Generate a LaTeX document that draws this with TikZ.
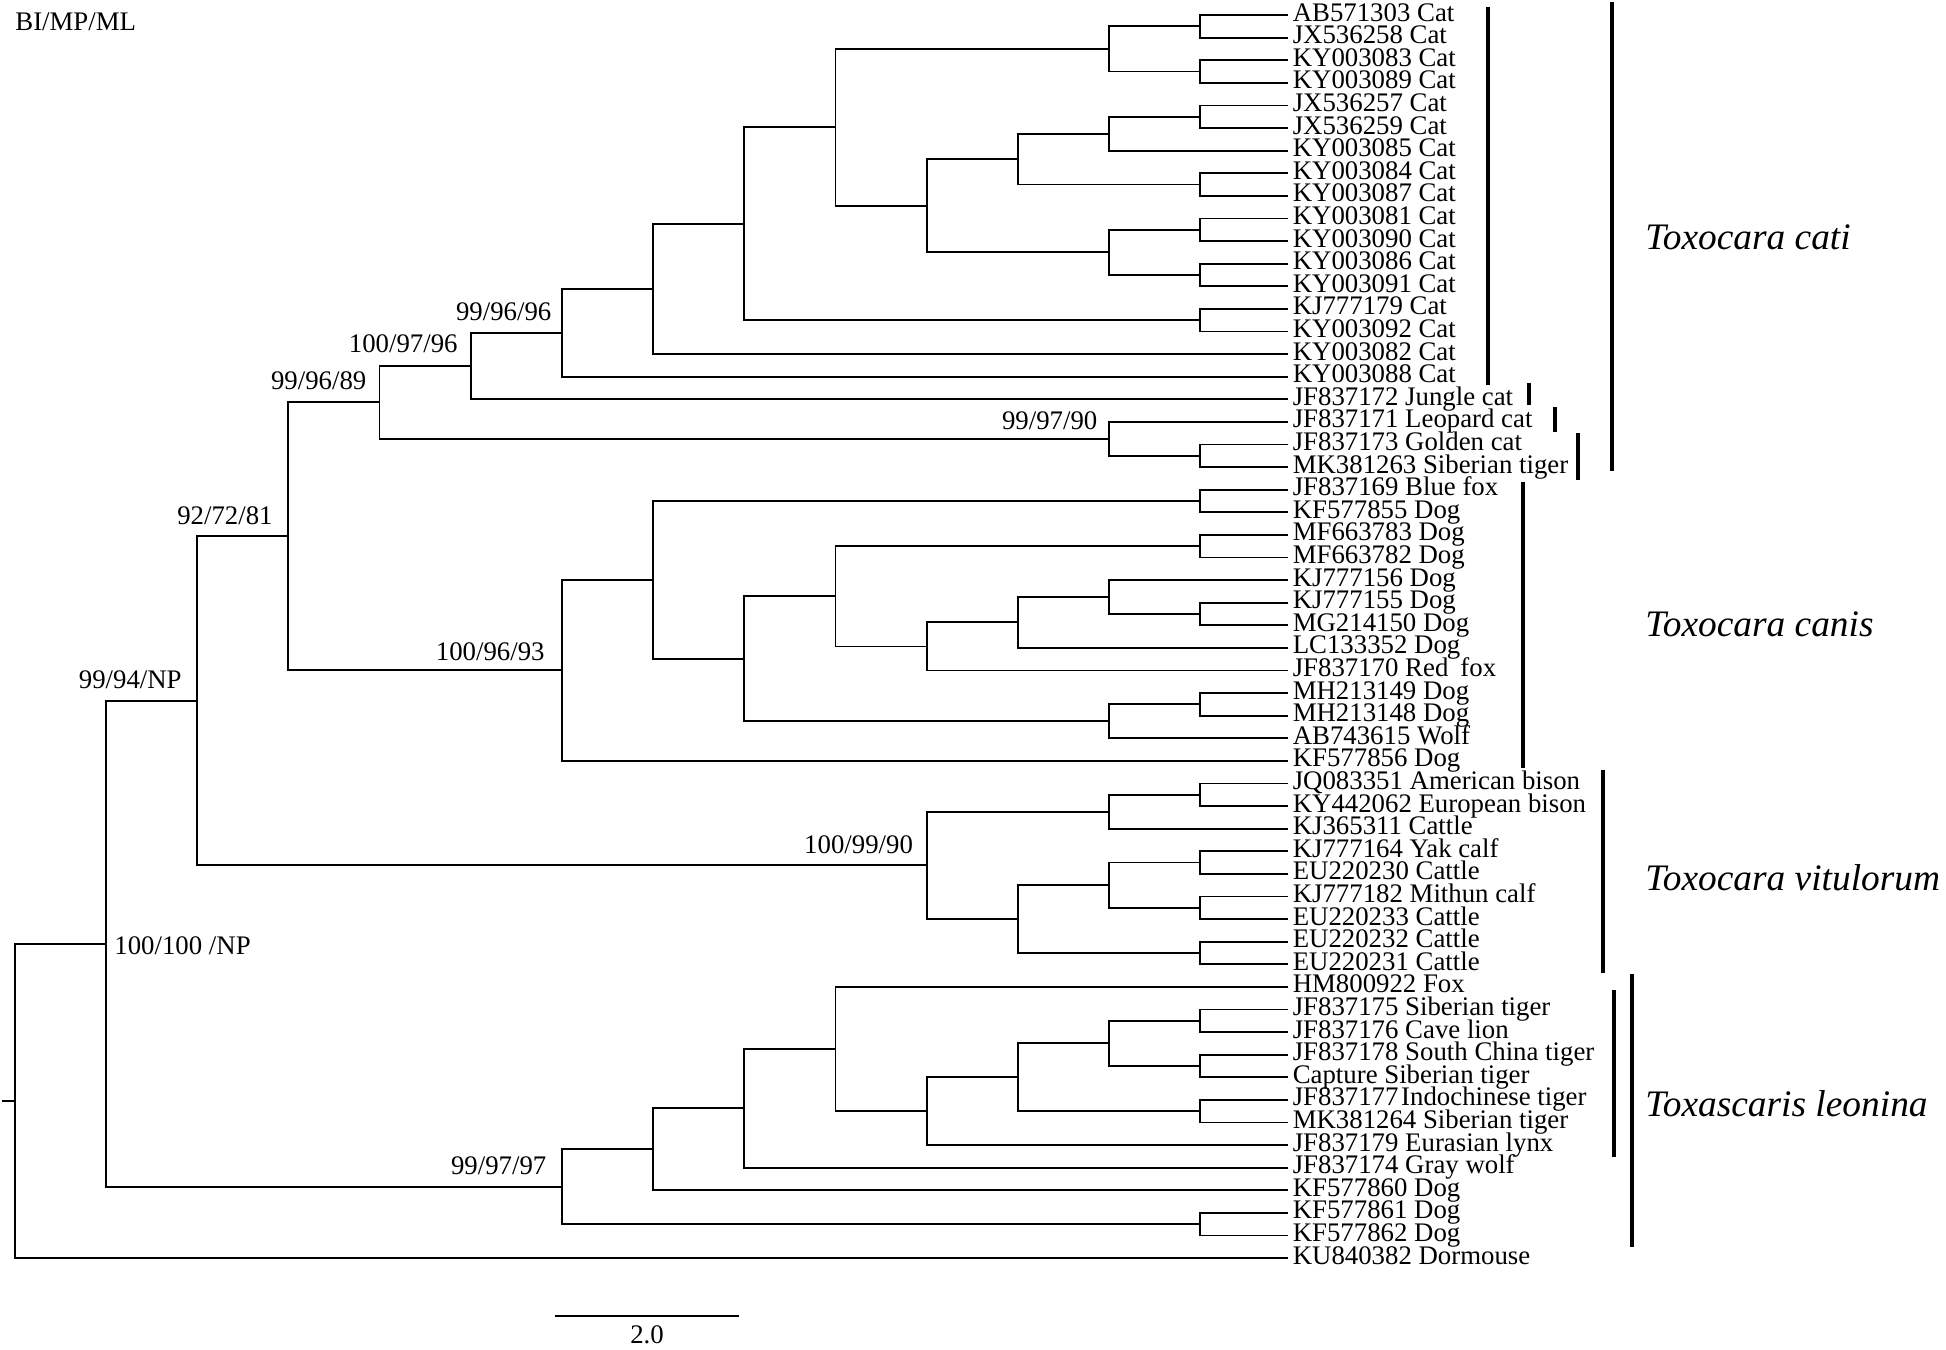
\documentclass[tikz,border=0pt]{standalone}
\usepackage{fontspec}
\setmainfont{Liberation Serif}
\begin{document}
\begin{tikzpicture}[x=0.5pt,y=-0.5pt,
 tree/.style={line width=0.9pt, line join=miter},
 bar/.style={line width=2pt},
 leaf/.style={anchor=west, inner xsep=2.2pt, inner ysep=0pt, text height=0.6em, text depth=0pt, font=\fontsize{13.4}{14}\selectfont},
 sup/.style={anchor=base east, inner sep=0pt, font=\fontsize{13.4}{14}\selectfont},
 species/.style={anchor=base west, inner sep=0pt, font=\fontsize{18.7}{20}\selectfont\itshape}]
\useasboundingbox (0,0) rectangle (1946,1349);

% leaves
\foreach \i/\t in {1/AB571303 Cat, 2/JX536258 Cat, 3/KY003083 Cat, 4/KY003089 Cat,
 5/JX536257 Cat, 6/JX536259 Cat, 7/KY003085 Cat, 8/KY003084 Cat, 9/KY003087 Cat,
 10/KY003081 Cat, 11/KY003090 Cat, 12/KY003086 Cat, 13/KY003091 Cat, 14/KJ777179 Cat,
 15/KY003092 Cat, 16/KY003082 Cat, 17/KY003088 Cat, 18/JF837172 Jungle cat,
 19/JF837171 Leopard cat, 20/JF837173 Golden cat, 21/MK381263 Siberian tiger,
 22/JF837169 Blue fox, 23/KF577855 Dog, 24/MF663783 Dog, 25/MF663782 Dog,
 26/KJ777156 Dog, 27/KJ777155 Dog, 28/MG214150 Dog, 29/LC133352 Dog,
 30/JF837170 Red\hspace{0.45em}fox, 31/MH213149 Dog, 32/MH213148 Dog, 33/AB743615 Wolf,
 34/KF577856 Dog, 35/JQ083351 American bison, 36/KY442062 European bison,
 37/KJ365311 Cattle, 38/KJ777164 Yak calf, 39/EU220230 Cattle, 40/KJ777182 Mithun calf,
 41/EU220233 Cattle, 42/EU220232 Cattle, 43/EU220231 Cattle, 44/HM800922 Fox,
 45/JF837175 Siberian tiger, 46/JF837176 Cave lion, 47/JF837178 South China tiger,
 48/Capture Siberian tiger, 49/JF837177\hspace{0.1em}Indochinese tiger, 50/MK381264 Siberian tiger,
 51/JF837179 Eurasian lynx, 52/JF837174 Gray wolf, 53/KF577860 Dog, 54/KF577861 Dog,
 55/KF577862 Dog, 56/KU840382 Dormouse}
 { \node[leaf] (L\i) at (1288,{15+(\i-1)*22.6}) {\t}; }

% Toxocara cati clade
\coordinate (A1) at (1200.3,26.3);
\coordinate (A2) at (1200.3,71.5);
\coordinate (A3) at (1109.1,48.9);
\coordinate (A4) at (1200.3,116.7);
\coordinate (A5) at (1109.1,133.65);
\coordinate (A6) at (1200.3,184.5);
\coordinate (A7) at (1017.9,159.08);
\coordinate (A8) at (1200.3,229.7);
\coordinate (A9) at (1200.3,274.9);
\coordinate (A10) at (1109.1,252.3);
\coordinate (A11) at (926.7,205.69);
\coordinate (A12) at (835.5,127.29);
\coordinate (A13) at (1200.3,320.1);
\coordinate (A14) at (744.3,223.70);
\coordinate (A15) at (653.1,288.85);
\coordinate (A16) at (561.9,332.72);
\coordinate (A17) at (470.7,365.96);
\coordinate (A18) at (1200.3,455.7);
\coordinate (A19) at (1109.1,438.75);
\coordinate (A20) at (379.5,402.36);
\draw[tree] (L1.west) -| (A1) |- (L2.west);
\draw[tree] (L3.west) -| (A2) |- (L4.west);
\draw[tree] (A1) -| (A3) |- (A2);
\draw[tree] (L5.west) -| (A4) |- (L6.west);
\draw[tree] (A4) -| (A5) |- (L7.west);
\draw[tree] (L8.west) -| (A6) |- (L9.west);
\draw[tree] (A5) -| (A7) |- (A6);
\draw[tree] (L10.west) -| (A8) |- (L11.west);
\draw[tree] (L12.west) -| (A9) |- (L13.west);
\draw[tree] (A8) -| (A10) |- (A9);
\draw[tree] (A7) -| (A11) |- (A10);
\draw[tree] (A3) -| (A12) |- (A11);
\draw[tree] (L14.west) -| (A13) |- (L15.west);
\draw[tree] (A12) -| (A14) |- (A13);
\draw[tree] (A14) -| (A15) |- (L16.west);
\draw[tree] (A15) -| (A16) |- (L17.west);
\draw[tree] (A16) -| (A17) |- (L18.west);
\draw[tree] (L20.west) -| (A18) |- (L21.west);
\draw[tree] (L19.west) -| (A19) |- (A18);
\draw[tree] (A17) -| (A20) |- (A19);

% Toxocara canis clade
\coordinate (B1) at (1200.3,500.9);
\coordinate (B2) at (1200.3,546.1);
\coordinate (B3) at (1200.3,613.9);
\coordinate (B4) at (1109.1,596.95);
\coordinate (B5) at (1017.9,622.38);
\coordinate (B6) at (926.7,646.39);
\coordinate (B7) at (835.5,596.24);
\coordinate (B8) at (1200.3,704.3);
\coordinate (B9) at (1109.1,721.25);
\coordinate (B10) at (744.3,658.75);
\coordinate (B11) at (653.1,579.82);
\coordinate (B12) at (561.9,670.31);
\draw[tree] (L22.west) -| (B1) |- (L23.west);
\draw[tree] (L24.west) -| (B2) |- (L25.west);
\draw[tree] (L27.west) -| (B3) |- (L28.west);
\draw[tree] (L26.west) -| (B4) |- (B3);
\draw[tree] (B4) -| (B5) |- (L29.west);
\draw[tree] (B5) -| (B6) |- (L30.west);
\draw[tree] (B2) -| (B7) |- (B6);
\draw[tree] (L31.west) -| (B8) |- (L32.west);
\draw[tree] (B8) -| (B9) |- (L33.west);
\draw[tree] (B7) -| (B10) |- (B9);
\draw[tree] (B1) -| (B11) |- (B10);
\draw[tree] (B11) -| (B12) |- (L34.west);

\coordinate (C1) at (288.3,536.34);
\draw[tree] (A20) -| (C1) |- (B12);

% Toxocara vitulorum clade
\coordinate (V1) at (1200.3,794.7);
\coordinate (V2) at (1109.1,811.65);
\coordinate (V3) at (1200.3,862.5);
\coordinate (V4) at (1200.3,907.7);
\coordinate (V5) at (1109.1,885.1);
\coordinate (V6) at (1200.3,952.9);
\coordinate (V7) at (1017.9,919.0);
\coordinate (V8) at (926.7,865.33);
\draw[tree] (L35.west) -| (V1) |- (L36.west);
\draw[tree] (V1) -| (V2) |- (L37.west);
\draw[tree] (L38.west) -| (V3) |- (L39.west);
\draw[tree] (L40.west) -| (V4) |- (L41.west);
\draw[tree] (V3) -| (V5) |- (V4);
\draw[tree] (L42.west) -| (V6) |- (L43.west);
\draw[tree] (V5) -| (V7) |- (V6);
\draw[tree] (V2) -| (V8) |- (V7);

\coordinate (C2) at (197.1,700.83);
\draw[tree] (C1) -| (C2) |- (V8);

% Toxascaris leonina clade
\coordinate (T1) at (1200.3,1020.7);
\coordinate (T2) at (1200.3,1065.9);
\coordinate (T3) at (1109.1,1043.3);
\coordinate (T4) at (1200.3,1111.1);
\coordinate (T5) at (1017.9,1077.2);
\coordinate (T6) at (926.7,1111.1);
\coordinate (T7) at (835.5,1048.95);
\coordinate (T8) at (744.3,1108.28);
\coordinate (T9) at (653.1,1149.24);
\coordinate (T10) at (1200.3,1224.1);
\coordinate (T11) at (561.9,1186.67);
\draw[tree] (L45.west) -| (T1) |- (L46.west);
\draw[tree] (L47.west) -| (T2) |- (L48.west);
\draw[tree] (T1) -| (T3) |- (T2);
\draw[tree] (L49.west) -| (T4) |- (L50.west);
\draw[tree] (T3) -| (T5) |- (T4);
\draw[tree] (T5) -| (T6) |- (L51.west);
\draw[tree] (L44.west) -| (T7) |- (T6);
\draw[tree] (T7) -| (T8) |- (L52.west);
\draw[tree] (T8) -| (T9) |- (L53.west);
\draw[tree] (L54.west) -| (T10) |- (L55.west);
\draw[tree] (T9) -| (T11) |- (T10);

\coordinate (C3) at (105.9,943.75);
\draw[tree] (C2) -| (C3) |- (T11);
\coordinate (R) at (14.7,1100.9);
\draw[tree] (C3) -| (R) |- (L56.west);
\coordinate (stub) at (2,1100.9);
\draw[tree] (stub) -- (R);

% support values
\node[sup] (s1) at (551.7,320.7) {99/96/96};
\node[sup] (s2) at (458,352.3) {100/97/96};
\node[sup] (s3) at (366.7,389) {99/96/89};
\node[sup] (s4) at (1097.7,429.7) {99/97/90};
\node[sup] (s5) at (273,524) {92/72/81};
\node[sup] (s6) at (545,660) {100/96/93};
\node[sup] (s7) at (182,688) {99/94/NP};
\node[sup] (s8) at (913.3,853.3) {100/99/90};
\node[sup] (s9) at (546.7,1174) {99/97/97};
\node[sup, anchor=base west] (s10) at (114,954) {100/100 /NP};
\node[sup, anchor=base west] (title) at (15,30.7) {BI/MP/ML};

% group bars
\coordinate (bA1) at (1488,7);   \coordinate (bA2) at (1488,385);
\coordinate (bB1) at (1529,383); \coordinate (bB2) at (1529,405);
\coordinate (bC1) at (1555,407); \coordinate (bC2) at (1555,432);
\coordinate (bD1) at (1578,433); \coordinate (bD2) at (1578,480);
\coordinate (bE1) at (1612,2);   \coordinate (bE2) at (1612,471);
\coordinate (bF1) at (1523,482); \coordinate (bF2) at (1523,768);
\coordinate (bG1) at (1603,770); \coordinate (bG2) at (1603,973);
\coordinate (bH1) at (1614,990); \coordinate (bH2) at (1614,1157);
\coordinate (bI1) at (1632,974); \coordinate (bI2) at (1632,1247);
\draw[bar] (bA1) -- (bA2);
\draw[bar] (bB1) -- (bB2);
\draw[bar] (bC1) -- (bC2);
\draw[bar] (bD1) -- (bD2);
\draw[bar] (bE1) -- (bE2);
\draw[bar] (bF1) -- (bF2);
\draw[bar] (bG1) -- (bG2);
\draw[bar] (bH1) -- (bH2);
\draw[bar] (bI1) -- (bI2);

% species names
\node[species] (sp1) at (1645,249) {Toxocara cati};
\node[species] (sp2) at (1645,636) {Toxocara canis};
\node[species] (sp3) at (1645,890) {Toxocara vitulorum};
\node[species] (sp4) at (1645,1116) {Toxascaris leonina};

% scale bar
\coordinate (sb1) at (555,1316);
\coordinate (sb2) at (739,1316);
\draw[tree] (sb1) -- (sb2);
\node[sup, anchor=north] (sbl) at (647,1325) {2.0};
\end{tikzpicture}
\end{document}
